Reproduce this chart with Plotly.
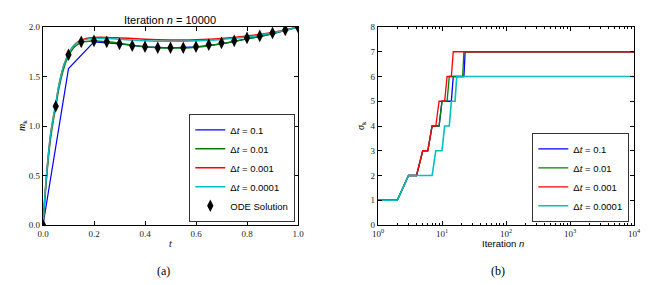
import plotly.graph_objects as go

# ---------------- data: panel (a) ----------------
t_dt01 = [0.0, 0.1, 0.2, 0.3, 0.4, 0.5, 0.6, 0.7, 0.8, 0.9, 1.0]
m_dt01 = [0.0, 1.58, 1.85, 1.83, 1.80, 1.79, 1.80, 1.83, 1.88, 1.93, 2.0]

t_fine = [0.0, 0.01, 0.02, 0.03, 0.04, 0.05, 0.06, 0.07, 0.08, 0.09, 0.10,
          0.12, 0.14, 0.16, 0.18, 0.20, 0.25, 0.30, 0.35, 0.40, 0.45, 0.50,
          0.55, 0.60, 0.65, 0.70, 0.75, 0.80, 0.85, 0.90, 0.95, 1.0]
m_dt001 = [0.0, 0.35, 0.65, 0.88, 1.05, 1.19, 1.35, 1.47, 1.57, 1.65, 1.71,
           1.79, 1.83, 1.85, 1.857, 1.858, 1.85, 1.835, 1.815, 1.80, 1.79, 1.787,
           1.788, 1.795, 1.81, 1.83, 1.855, 1.88, 1.905, 1.935, 1.965, 2.0]
m_dt0001 = [0.0, 0.38, 0.68, 0.92, 1.08, 1.22, 1.38, 1.50, 1.60, 1.67, 1.73,
            1.81, 1.855, 1.877, 1.889, 1.894, 1.895, 1.89, 1.883, 1.876, 1.871, 1.869,
            1.869, 1.872, 1.877, 1.885, 1.895, 1.91, 1.925, 1.945, 1.97, 2.0]
m_dt00001 = [0.0, 0.38, 0.68, 0.92, 1.08, 1.22, 1.38, 1.50, 1.60, 1.67, 1.73,
             1.81, 1.85, 1.87, 1.88, 1.884, 1.883, 1.877, 1.868, 1.861, 1.856, 1.855,
             1.856, 1.86, 1.866, 1.875, 1.887, 1.90, 1.918, 1.94, 1.967, 2.0]

t_ode = [0.0, 0.05, 0.10, 0.15, 0.20, 0.25, 0.30, 0.35, 0.40, 0.45, 0.50,
         0.55, 0.60, 0.65, 0.70, 0.75, 0.80, 0.85, 0.90, 0.95, 1.0]
m_ode = [0.0, 1.20, 1.72, 1.85, 1.86, 1.85, 1.83, 1.81, 1.80, 1.79, 1.79,
         1.79, 1.80, 1.82, 1.84, 1.86, 1.89, 1.91, 1.94, 1.97, 2.0]

# ---------------- data: panel (b) ----------------
n_iter = list(range(1, 24)) + [10000]
s_dt01 = [1, 1, 2, 2, 3, 3, 4, 4, 4, 5, 5, 5, 5, 5, 6, 6, 6, 6, 6, 6, 6, 6, 7, 7]
s_dt001 = [1, 1, 2, 2, 3, 3, 4, 4, 4, 5, 5, 5, 6, 6, 6, 6, 6, 6, 6, 6, 6, 7, 7, 7]
s_dt0001 = [1, 1, 2, 2, 3, 3, 4, 4, 5, 5, 5, 6, 6, 6, 7, 7, 7, 7, 7, 7, 7, 7, 7, 7]
s_dt00001 = [1, 1, 2, 2, 2, 2, 2, 3, 3, 3, 4, 4, 4, 5, 5, 5, 6, 6, 6, 6, 6, 6, 6, 6]

labels = ["Δ<i>t</i> = 0.1", "Δ<i>t</i> = 0.01", "Δ<i>t</i> = 0.001", "Δ<i>t</i> = 0.0001"]
colors = ["#0000ff", "#008000", "#ff0000", "#00bfbf"]

log_major = [1, 10, 100, 1000, 10000]
log_major_text = ["10<sup>0</sup>", "10<sup>1</sup>", "10<sup>2</sup>",
                  "10<sup>3</sup>", "10<sup>4</sup>"]
log_minor = [d * 10 ** e for e in range(4) for d in range(2, 10)]

# the page body has an 8px margin, so the figure is drawn 8px in
OFF = 8
W, H = 649 - OFF, 285 - OFF
def px(x):
    return (x - OFF) / W
def py(y):
    return 1 - (y - OFF) / H

fig = go.Figure()

# panel (a)
fig.add_trace(go.Scatter(x=t_dt01, y=m_dt01, mode="lines", name=labels[0],
                         line=dict(color=colors[0], width=1.2), legend="legend"))
fig.add_trace(go.Scatter(x=t_fine, y=m_dt001, mode="lines", name=labels[1],
                         line=dict(color=colors[1], width=1.5, shape="spline"), legend="legend"))
fig.add_trace(go.Scatter(x=t_fine, y=m_dt0001, mode="lines", name=labels[2],
                         line=dict(color=colors[2], width=1.5, shape="spline"), legend="legend"))
fig.add_trace(go.Scatter(x=t_fine, y=m_dt00001, mode="lines", name=labels[3],
                         line=dict(color=colors[3], width=1.5, shape="spline"), legend="legend"))
fig.add_trace(go.Scatter(x=t_ode, y=m_ode, mode="markers", name="ODE Solution",
                         marker=dict(symbol="diamond-tall", size=9, color="black"),
                         legend="legend"))

# panel (b)
for s, lab, c, w in zip([s_dt01, s_dt001, s_dt0001, s_dt00001], labels, colors,
                        [1.3, 1.3, 1.3, 1.6]):
    fig.add_trace(go.Scatter(x=n_iter, y=s, mode="lines", name=lab,
                             line=dict(color=c, width=w), xaxis="x2", yaxis="y2",
                             legend="legend2"))

axis_common = dict(showline=True, linecolor="black", linewidth=1.3, mirror="ticks",
                   ticks="inside", ticklen=4, tickcolor="black", showgrid=False,
                   zeroline=False, automargin=False,
                   tickfont=dict(family="Liberation Serif", size=9, color="#222"))

y_dom = [py(225), py(27)]
fig.update_layout(
    width=W, height=H, margin=dict(l=0, r=0, t=0, b=0, pad=0),
    paper_bgcolor="white", plot_bgcolor="white",
    xaxis=dict(domain=[px(43), px(298)], range=[0, 1], tickvals=[0, 0.2, 0.4, 0.6, 0.8, 1.0],
               ticktext=["0.0", "0.2", "0.4", "0.6", "0.8", "1.0"], anchor="y", **axis_common),
    yaxis=dict(domain=y_dom, range=[0, 2], tickvals=[0, 0.5, 1.0, 1.5, 2.0],
               ticktext=["0.0", "0.5", "1.0", "1.5", "2.0"], anchor="x", **axis_common),
    xaxis2=dict(domain=[px(378), px(634)], type="log", range=[0, 4],
                tickvals=log_major, ticktext=log_major_text,
                minor=dict(ticks="inside", ticklen=2, tickcolor="black",
                           tickvals=log_minor, showgrid=False),
                anchor="y2", **axis_common),
    yaxis2=dict(domain=y_dom, range=[0, 8], tickvals=list(range(9)), anchor="x2",
                **axis_common),
    legend=dict(x=px(295), y=py(222), xanchor="right", yanchor="bottom",
                bgcolor="white", bordercolor="#333", borderwidth=1.3,
                font=dict(family="Liberation Sans", size=9.5, color="black"),
                tracegroupgap=0, itemwidth=30),
    legend2=dict(x=px(629), y=py(222), xanchor="right", yanchor="bottom",
                 bgcolor="white", bordercolor="#333", borderwidth=1.3,
                 font=dict(family="Liberation Sans", size=9.5, color="black"),
                 tracegroupgap=0, itemwidth=30),
    showlegend=True,
)

def label(text, x, y, size, family, angle=0):
    fig.add_annotation(text=text, x=px(x), y=py(y), xref="paper", yref="paper",
                       xanchor="center", yanchor="middle", showarrow=False,
                       textangle=angle, font=dict(family=family, size=size, color="black"))

label("Iteration <i>n</i> = 10000", 170, 20, 11, "Liberation Sans")
label("<i>m</i><sub>k</sub>", 22, 126, 10, "Liberation Serif", -90)
label("<i>σ</i><sub>k</sub>", 361, 126, 10, "Liberation Serif", -90)
label("<i>t</i>", 170, 243, 10, "Liberation Serif")
label("Iteration <i>n</i>", 503, 243, 9.5, "Liberation Sans")
label("(a)", 163, 271, 12, "Liberation Serif")
label("(b)", 498, 271, 12, "Liberation Serif")

fig.write_html("out.html")
